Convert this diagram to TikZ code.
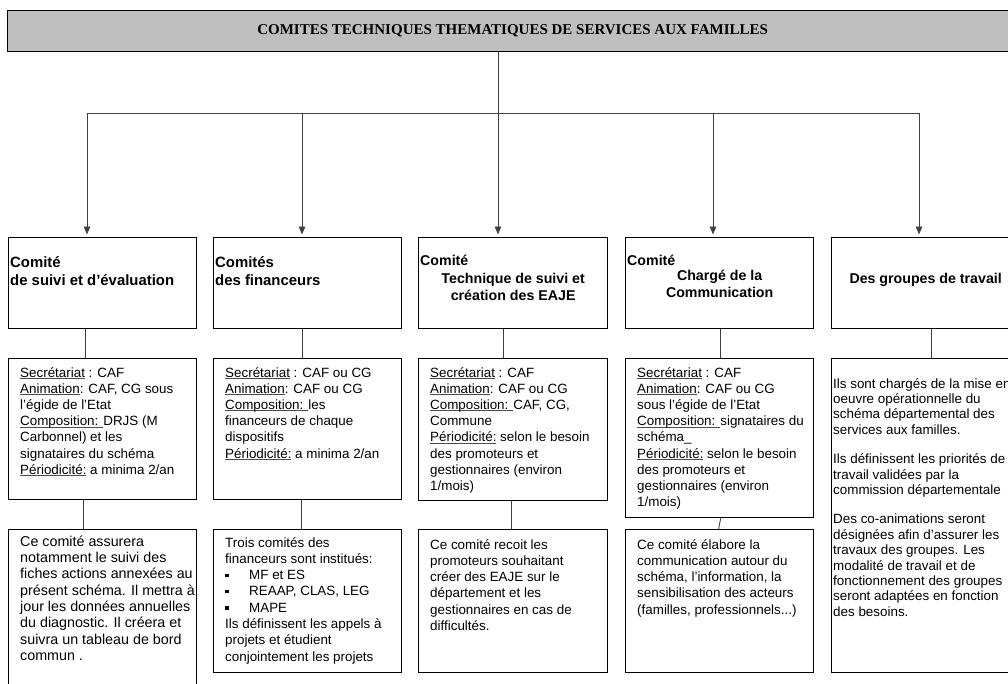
\documentclass[tikz,border=0pt]{standalone}
\usepackage{fontspec}
\setmainfont{Liberation Sans}
\newfontfamily\titlefont{Liberation Serif}
\newcommand\undl[1]{\setbox0\hbox{#1}\rlap{\color{black!70}\rule[-1.6pt]{\wd0}{0.7pt}}\box0\relax}
\usetikzlibrary{arrows.meta, positioning}

\begin{document}
\begin{tikzpicture}[x=1pt, y=1pt,
    box/.style={draw, line width=1.3pt, minimum width=188pt, anchor=north west, inner sep=0},
    line/.style={draw=black!75, line width=0.9pt},
    arrow/.style={-{Triangle[length=8pt, width=6.5pt]}, line width=0.9pt, draw=black!75, shorten >=2.5pt},
    headstyle/.style={font=\fontsize{14.2}{17}\selectfont\bfseries, inner sep=0, align=left, anchor=north west},
    bighead/.style={headstyle, font=\fontsize{14.9}{18}\selectfont\bfseries},
    textstyle/.style={font=\fontsize{13.4}{16.2}\selectfont, inner sep=0, align=left, anchor=north west}
]
\useasboundingbox (0,0) rectangle (1008,-683);

% Title bar
\node[box, fill=black!25, minimum width=1010pt, minimum height=41pt,
      font=\titlefont\fontsize{15}{18}\selectfont\bfseries] (title) at (7,-10)
      {COMITES TECHNIQUES THEMATIQUES DE SERVICES AUX FAMILLES};

% Fan-out to the five committees
\coordinate (hub) at (498,-113);
\coordinate (d1) at (87,-113);
\coordinate (d2) at (302,-113);
\coordinate (d3) at (498,-113);
\coordinate (d4) at (713,-113);
\coordinate (d5) at (919,-113);
\draw[line] (title.south -| hub) -- (hub);
\draw[line] (d1) -- (d5);

% Column 1
\node[box, minimum height=91pt] (h1) at (8,-237) {};
\node[box, minimum height=141pt] (i1) at (8,-358) {};
\node[box, minimum height=170pt] (b1) at (8,-529) {};
\node[bighead] at ([xshift=2pt, yshift=-19pt]h1.north west) {Comité\\de suivi et d’évaluation};
\node[textstyle] at ([xshift=12pt, yshift=-9pt]i1.north west) {\undl{Secrétariat} : CAF\\\undl{Animation}: CAF, CG sous\\l’égide de l’Etat\\\undl{Composition: }DRJS (M\\Carbonnel) et les\\signataires du schéma\\\undl{Périodicité:} a minima 2/an};
\node[textstyle, font=\fontsize{14.3}{16.3}\selectfont] at ([xshift=12pt, yshift=-6.5pt]b1.north west) {Ce comité assurera\\notamment le suivi des\\fiches actions annexées au\\présent schéma. Il mettra à\\jour les données annuelles\\du diagnostic. Il créera et\\suivra un tableau de bord\\commun .};
\draw[arrow] (d1) -- (d1 |- h1.north);
\draw[line] ([xshift=-17pt]h1.south) -- ([xshift=-17pt]i1.north);
\draw[line] ([xshift=-19pt]i1.south) -- ([xshift=-19pt]b1.north);

% Column 2
\node[box, minimum height=91pt] (h2) at (213,-237) {};
\node[box, minimum height=141pt] (i2) at (213,-358) {};
\node[box, minimum height=143pt] (b2) at (213,-529) {};
\node[bighead] at ([xshift=2pt, yshift=-19pt]h2.north west) {Comités\\des financeurs};
\node[textstyle] at ([xshift=12pt, yshift=-9pt]i2.north west) {\undl{Secrétariat} : CAF ou CG\\\undl{Animation}: CAF ou CG\\\undl{Composition: }les\\financeurs de chaque\\dispositifs\\\undl{Périodicité:} a minima 2/an};
\node[textstyle, font=\fontsize{13.4}{16.3}\selectfont] at ([xshift=12pt, yshift=-8pt]b2.north west) {Trois comités des\\financeurs sont institués:\\\makebox[24pt][l]{\rule[2.5pt]{3.6pt}{3.6pt}}MF et ES\\\makebox[24pt][l]{\rule[2.5pt]{3.6pt}{3.6pt}}REAAP, CLAS, LEG\\\makebox[24pt][l]{\rule[2.5pt]{3.6pt}{3.6pt}}MAPE\\Ils définissent les appels à\\projets et étudient\\conjointement les projets};
\draw[arrow] (d2) -- (d2 |- h2.north);
\draw[line] ([xshift=-5pt]h2.south) -- ([xshift=-5pt]i2.north);
\draw[line] ([xshift=-6pt]i2.south) -- ([xshift=-6pt]b2.north);

% Column 3
\node[box, minimum width=189pt, minimum height=91pt] (h3) at (418,-237) {};
\node[box, minimum width=189pt, minimum height=142pt] (i3) at (418,-358) {};
\node[box, minimum width=189pt, minimum height=143pt] (b3) at (418,-529) {};
\node[headstyle] at ([xshift=2pt, yshift=-18pt]h3.north west) {Comité};
\node[headstyle, align=center, anchor=north] at ([yshift=-36pt]h3.north) {Technique de suivi et\\création des EAJE};
\node[textstyle] at ([xshift=12pt, yshift=-9pt]i3.north west) {\undl{Secrétariat} : CAF\\\undl{Animation}: CAF ou CG\\\undl{Composition: }CAF, CG,\\Commune\\\undl{Périodicité:} selon le besoin\\des promoteurs et\\gestionnaires (environ\\1/mois)};
\node[textstyle, font=\fontsize{13.4}{16.3}\selectfont] at ([xshift=12pt, yshift=-10pt]b3.north west) {Ce comité recoit les\\promoteurs souhaitant\\créer des EAJE sur le\\département et les\\gestionnaires en cas de\\difficultés.};
\draw[arrow] (d3) -- (d3 |- h3.north);
\draw[line] ([xshift=-9.5pt]h3.south) -- ([xshift=-9.5pt]i3.north);
\draw[line] ([xshift=-1.5pt]i3.south) -- ([xshift=-1.5pt]b3.north);

% Column 4
\node[box, minimum height=91pt] (h4) at (625,-237) {};
\node[box, minimum height=159pt] (i4) at (625,-358) {};
\node[box, minimum height=143pt] (b4) at (625,-529) {};
\node[headstyle] at ([xshift=2pt, yshift=-18pt]h4.north west) {Comité};
\node[headstyle, align=center, anchor=north] at ([yshift=-33pt]h4.north) {Chargé de la\\Communication};
\node[textstyle] at ([xshift=12pt, yshift=-9pt]i4.north west) {\undl{Secrétariat} : CAF\\\undl{Animation}: CAF ou CG\\sous l’égide de l’Etat\\\undl{Composition: }signataires du\\schéma\_\\\undl{Périodicité:} selon le besoin\\des promoteurs et\\gestionnaires (environ\\1/mois)};
\node[textstyle, font=\fontsize{13.4}{16.3}\selectfont] at ([xshift=12pt, yshift=-10pt]b4.north west) {Ce comité élabore la\\communication autour du\\schéma, l’information, la\\sensibilisation des acteurs\\(familles, professionnels...)};
\draw[arrow] (d4) -- (d4 |- h4.north);
\draw[line] ([xshift=1pt]h4.south) -- ([xshift=1pt]i4.north);
\draw[line] ([xshift=1pt]i4.south) -- ([xshift=-1pt]b4.north);

% Column 5
\node[box, minimum height=91pt] (h5) at (831,-237) {};
\node[box, minimum height=314pt] (i5) at (831,-358) {};
\node[headstyle, anchor=north] at ([yshift=-36pt]h5.north) {Des groupes de travail};
\node[textstyle, font=\fontsize{13.4}{15.4}\selectfont] at ([xshift=2pt, yshift=-20pt]i5.north west) {Ils sont chargés de la mise en\\oeuvre opérationnelle du\\schéma départemental des\\services aux familles.\\[14pt]Ils définissent les priorités de\\travail validées par la\\commission départementale\\[14pt]Des co-animations seront\\désignées afin d’assurer les\\travaux des groupes. Les\\modalité de travail et de\\fonctionnement des groupes\\seront adaptées en fonction\\des besoins.};
\draw[arrow] (d5) -- (d5 |- h5.north);
\draw[line] ([xshift=6pt]h5.south) -- ([xshift=6pt]i5.north);

\end{tikzpicture}
\end{document}
